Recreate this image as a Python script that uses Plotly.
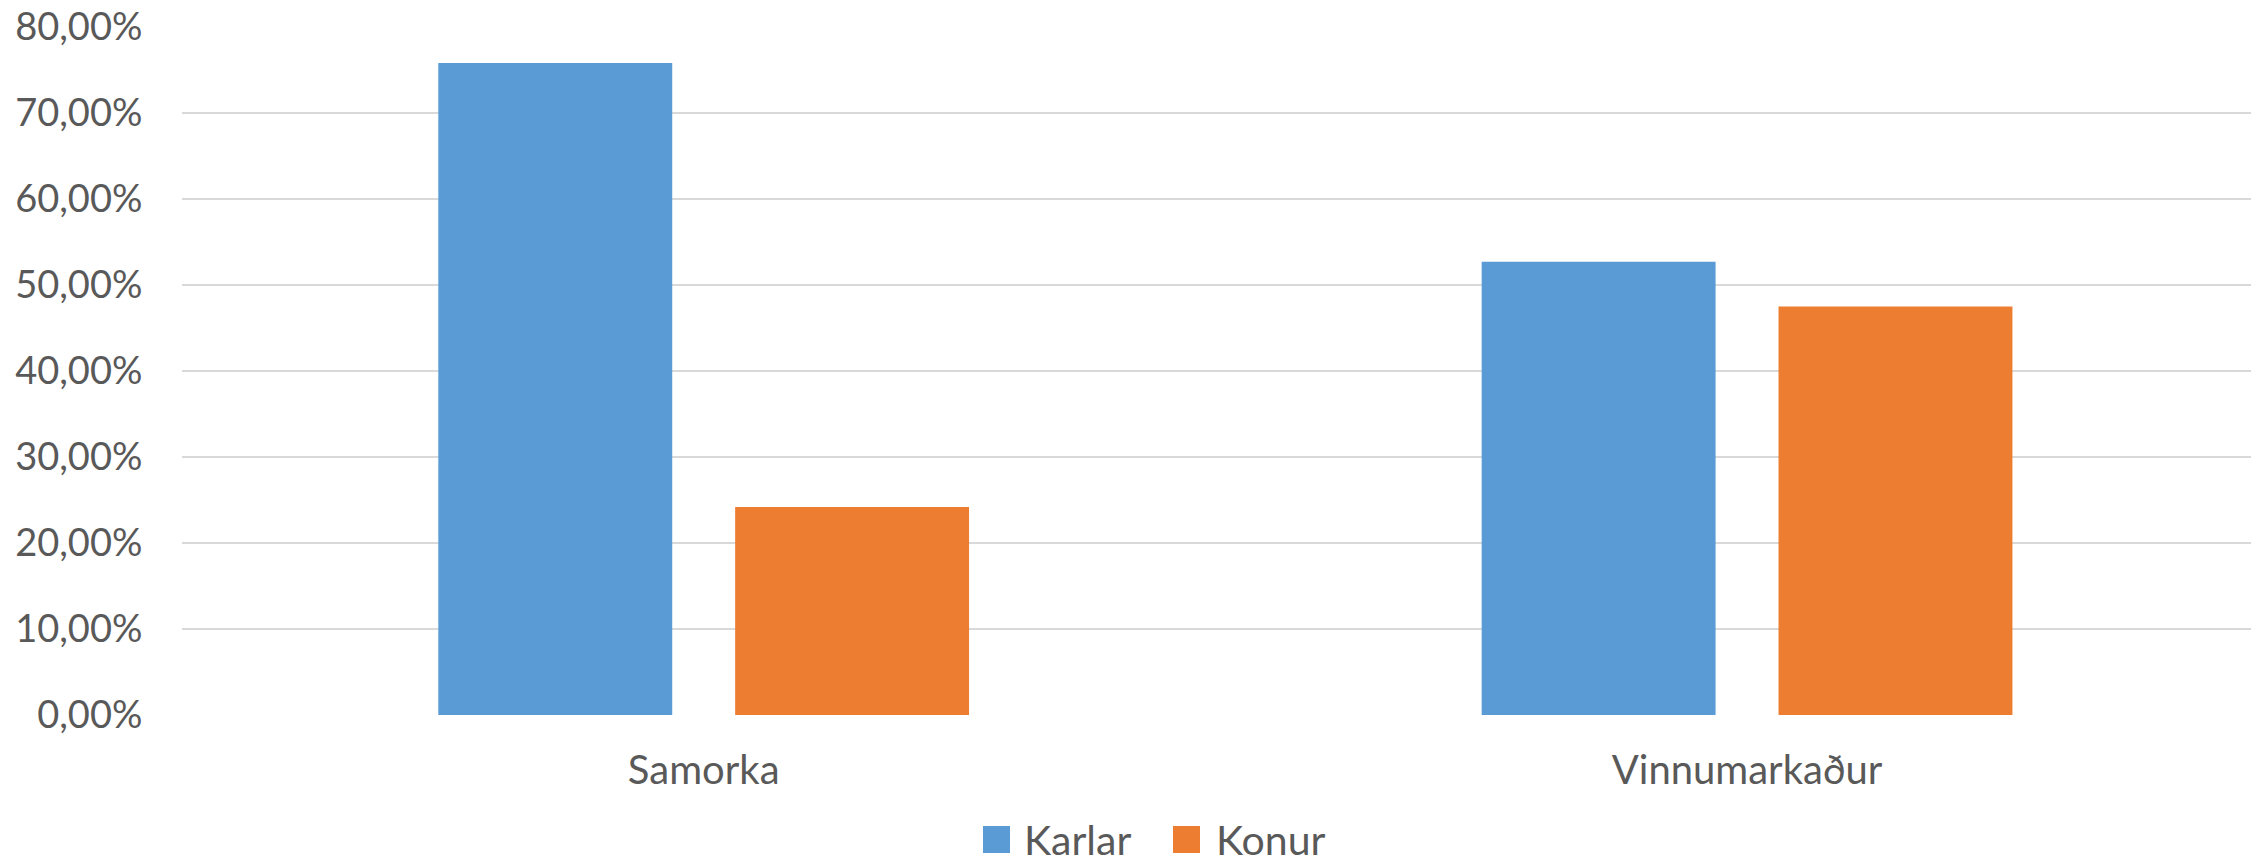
import plotly.graph_objects as go

categories = ["Samorka", "Vinnumarkaður"]
series_names = ["Karlar", "Konur"]
karlar = [75.8, 52.7]
konur = [24.2, 47.5]
series_values = [karlar, konur]
series_colors = ["#5B9BD5", "#ED7D31"]
tick_values = [0, 10, 20, 30, 40, 50, 60, 70, 80]
tick_labels = ["0,00%", "10,00%", "20,00%", "30,00%", "40,00%",
               "50,00%", "60,00%", "70,00%", "80,00%"]

W, H = 2251, 866
L, R, T, B = 182, 0, 27, 151
FONT = "Lato"
TXT = "#595959"

fig = go.Figure()
for name, vals, col in zip(series_names, series_values, series_colors):
    fig.add_trace(go.Bar(x=categories, y=vals, name=name, marker_color=col,
                         marker_line_width=0, showlegend=False))

fig.update_layout(
    width=W, height=H,
    margin=dict(l=L, r=R, t=T, b=B, pad=0),
    paper_bgcolor="white", plot_bgcolor="white",
    barmode="group", bargap=0.431, bargroupgap=0.212,
    font=dict(family=FONT, color=TXT, size=38),
    showlegend=False,
)
fig.update_xaxes(range=[-0.5, 1.483], showgrid=False, zeroline=False, showline=False,
                 ticks="outside", ticklen=0, tickfont=dict(size=40, color=TXT, family=FONT),
                 ticklabelstandoff=20)
fig.update_yaxes(range=[0, 80], tickvals=tick_values, ticktext=tick_labels,
                 showgrid=True, gridcolor="#D9D9D9", gridwidth=1.5, zeroline=False,
                 showline=False, tickfont=dict(size=38, color=TXT, family=FONT),
                 ticks="outside", ticklen=0, ticklabelstandoff=31)

# Legend drawn manually (large square swatches like the original)
plot_w = W - L - R
plot_h = H - T - B
def px_x(p):
    return (p - L) / plot_w
def px_y(p):
    return (H - B - p) / plot_h

legend_items = [(983, 1023), (1173, 1215)]
for (sq_x, txt_x), name, col in zip(legend_items, series_names, series_colors):
    fig.add_shape(type="rect", xref="paper", yref="paper",
                  x0=px_x(sq_x), x1=px_x(sq_x + 27), y0=px_y(853), y1=px_y(826),
                  fillcolor=col, line_width=0)
    fig.add_annotation(xref="paper", yref="paper", x=px_x(txt_x), y=px_y(865),
                       xanchor="left", yanchor="bottom", text=name, showarrow=False,
                       borderpad=0, font=dict(size=41, color=TXT, family=FONT))

fig.write_html("out.html", config={"displayModeBar": False},
               post_script="document.body.style.margin='0';document.body.style.overflow='hidden';")
